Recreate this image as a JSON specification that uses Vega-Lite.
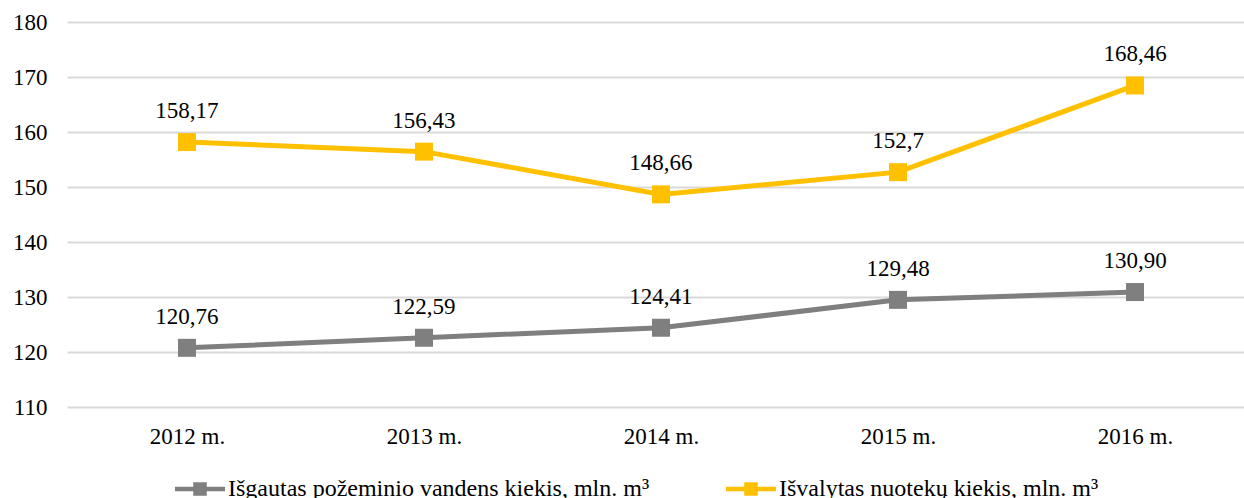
{
  "$schema": "https://vega.github.io/schema/vega-lite/v6.json",
  "width": 1177,
  "height": 385,
  "autosize": {"type": "none"},
  "padding": {"left": 67, "top": 22, "right": 0, "bottom": 91},
  "background": "white",
  "config": {
    "view": {"stroke": null},
    "font": "'Liberation Serif', 'Times New Roman', serif",
    "axis": {"labelFont": "'Liberation Serif', 'Times New Roman', serif", "labelFontSize": 23, "labelColor": "#000000"},
    "text": {"font": "'Liberation Serif', 'Times New Roman', serif"}
  },
  "data": {
    "values": [
      {"year": "2012 m.", "series": "Išgautas požeminio vandens kiekis, mln. m³", "value": 120.76, "label": "120,76"},
      {"year": "2013 m.", "series": "Išgautas požeminio vandens kiekis, mln. m³", "value": 122.59, "label": "122,59"},
      {"year": "2014 m.", "series": "Išgautas požeminio vandens kiekis, mln. m³", "value": 124.41, "label": "124,41"},
      {"year": "2015 m.", "series": "Išgautas požeminio vandens kiekis, mln. m³", "value": 129.48, "label": "129,48"},
      {"year": "2016 m.", "series": "Išgautas požeminio vandens kiekis, mln. m³", "value": 130.90, "label": "130,90"},
      {"year": "2012 m.", "series": "Išvalytas nuotekų kiekis, mln. m³", "value": 158.17, "label": "158,17"},
      {"year": "2013 m.", "series": "Išvalytas nuotekų kiekis, mln. m³", "value": 156.43, "label": "156,43"},
      {"year": "2014 m.", "series": "Išvalytas nuotekų kiekis, mln. m³", "value": 148.66, "label": "148,66"},
      {"year": "2015 m.", "series": "Išvalytas nuotekų kiekis, mln. m³", "value": 152.7, "label": "152,7"},
      {"year": "2016 m.", "series": "Išvalytas nuotekų kiekis, mln. m³", "value": 168.46, "label": "168,46"}
    ]
  },
  "encoding": {
    "x": {
      "field": "year", "type": "ordinal",
      "scale": {"type": "point", "padding": 0.483, "align": 0.524},
      "axis": {"title": null, "labelAngle": 0, "domain": false, "ticks": false, "tickSize": 0, "labelPadding": 18, "grid": false}
    },
    "y": {
      "field": "value", "type": "quantitative",
      "scale": {"domain": [110, 180], "nice": false, "zero": false},
      "axis": {"title": null, "values": [110, 120, 130, 140, 150, 160, 170, 180], "domain": false, "ticks": false, "tickSize": 0, "labelPadding": 20, "grid": true, "gridColor": "#d9d9d9", "gridWidth": 2}
    },
    "color": {
      "field": "series", "type": "nominal",
      "scale": {"domain": ["Išgautas požeminio vandens kiekis, mln. m³", "Išvalytas nuotekų kiekis, mln. m³"], "range": ["#7f7f7f", "#ffc000"]},
      "legend": {
        "title": null,
        "orient": "none",
        "direction": "horizontal",
        "legendX": 108,
        "legendY": 442,
        "symbolType": "M-1,-0.09L1,-0.09L1,0.09L-1,0.09Z M-0.27,-0.27L0.27,-0.27L0.27,0.27L-0.27,0.27Z",
        "symbolSize": 2500,
        "symbolStrokeWidth": 0,
        "labelFont": "'Liberation Serif', 'Times New Roman', serif",
        "labelFontSize": 24,
        "labelColor": "#000000",
        "labelOffset": 3,
        "columnPadding": 76,
        "labelLimit": 1000,
        "encode": {"symbols": {"update": {"fill": {"scale": "color", "field": "value"}, "fillOpacity": {"value": 1}, "size": {"value": 2500}}}}
      }
    }
  },
  "layer": [
    {"mark": {"type": "line", "strokeWidth": 5}},
    {"mark": {"type": "point", "shape": "square", "size": 324, "filled": true, "opacity": 1}},
    {
      "mark": {"type": "text", "font": "'Liberation Serif', 'Times New Roman', serif", "fontSize": 23, "color": "#000000", "baseline": "alphabetic", "dy": -24},
      "encoding": {"text": {"field": "label"}, "color": {"value": "#000000"}}
    }
  ]
}
